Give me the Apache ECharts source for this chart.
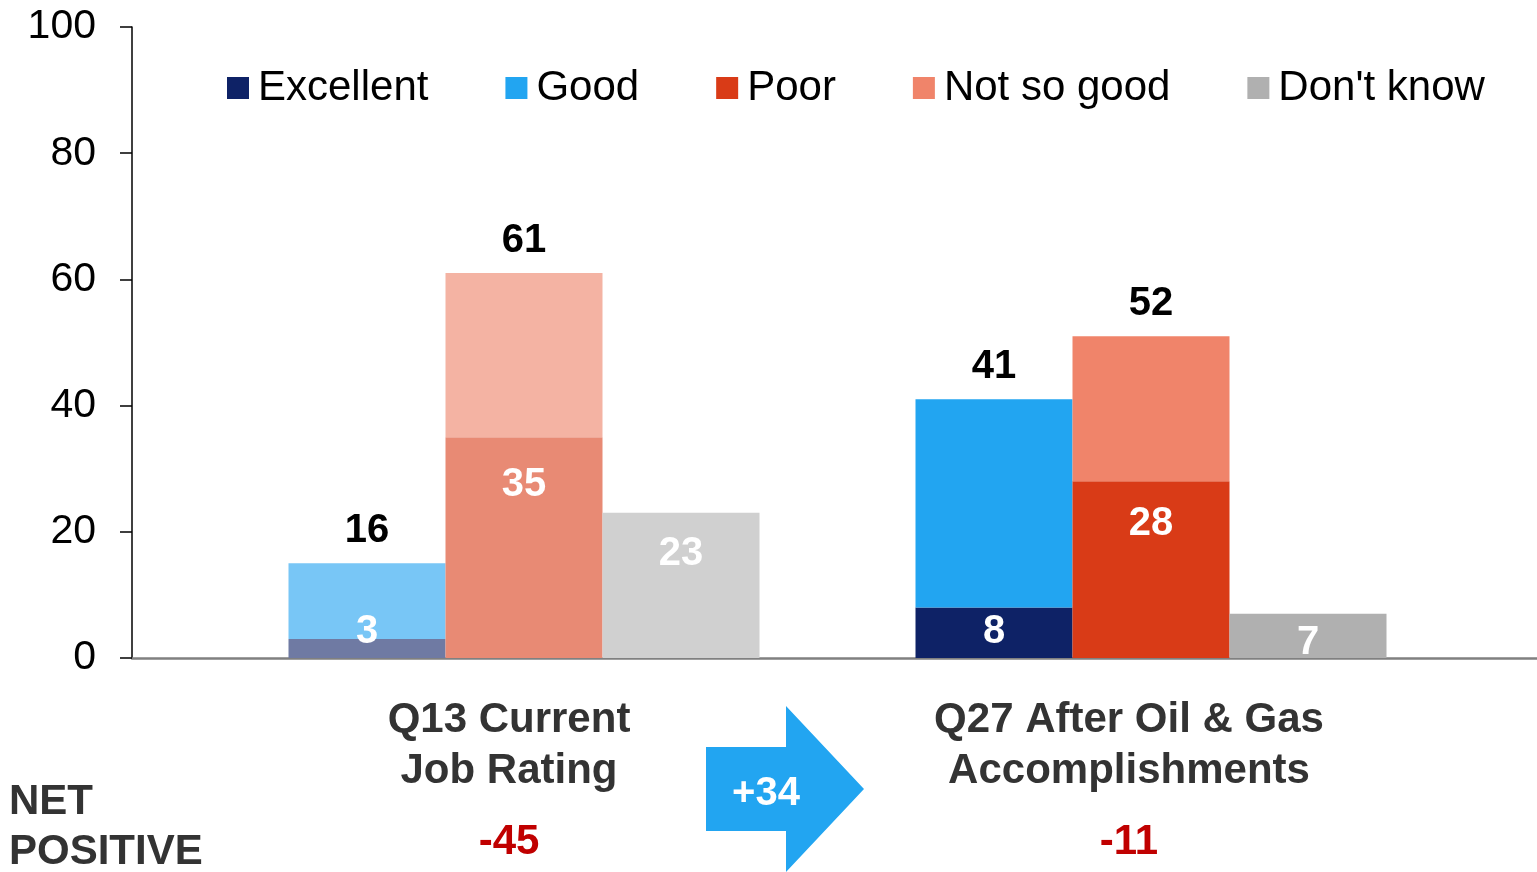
<!DOCTYPE html>
<html>
<head>
<meta charset="utf-8">
<script src="https://cdn.jsdelivr.net/npm/echarts@6/dist/echarts.min.js"></script>
<style>
  html, body { margin: 0; padding: 0; background: #fff; }
  #chart { width: 1537px; height: 872px; }
</style>
</head>
<body>
<div id="chart"></div>
<script>
const categories = ['Q13 Current\nJob Rating', 'Q27 After Oil & Gas\nAccomplishments']
const netPositive = ['-45', '-11']
const excellent = [3, 8]
const good = [12, 33]
const poor = [35, 28]
const notSoGood = [26, 23]
const dontKnow = [23, 7]
const positiveTotals = [16, 41]
const negativeTotals = [61, 52]
const yTicks = [0, 20, 40, 60, 80, 100]

// faded colours for Q13, full colours for Q27
const colors = {
  excellent: ['#6f7aa3', '#0e2266'],
  good: ['#78c6f6', '#22a5f1'],
  poor: ['#e88a74', '#d93b17'],
  notSoGood: ['#f4b3a3', '#f0846a'],
  dontKnow: ['#d0d0d0', '#b0b0b0']
}

const FONT = '"Liberation Sans", Arial, sans-serif'
const chart = echarts.init(document.getElementById('chart'))

const inLabel = {
  show: true,
  color: '#fff',
  fontSize: 40,
  fontWeight: 'bold',
  fontFamily: FONT,
  lineHeight: 40
}

const totalLabel = (totals) => ({
  show: true,
  position: 'top',
  distance: 12,
  color: '#000',
  fontSize: 40,
  fontWeight: 'bold',
  fontFamily: FONT,
  lineHeight: 40,
  formatter: p => totals[p.dataIndex]
})

const mkData = (values, key) => values.map((v, i) => ({
  value: v,
  itemStyle: { color: colors[key][i] }
}))

const catStyle = { fontSize: 42, fontWeight: 'bold', color: '#333', lineHeight: 51, fontFamily: FONT }
const netStyle = { fontSize: 42, fontWeight: 'bold', color: '#c00000', lineHeight: 91, fontFamily: FONT }

const option = {
  animation: false,
  textStyle: { fontFamily: FONT },
  title: {
    text: 'NET\nPOSITIVE',
    left: 4,
    top: 772,
    textStyle: { fontSize: 42, fontWeight: 'bold', color: '#333', lineHeight: 50, fontFamily: FONT }
  },
  legend: {
    left: 222,
    top: 62,
    itemWidth: 22,
    itemHeight: 22,
    itemGap: 77,
    icon: 'rect',
    textStyle: { fontSize: 42, color: '#000', fontFamily: FONT, padding: [0, 0, 0, 4] },
    data: ['Excellent', 'Good', 'Poor', 'Not so good', "Don't know"]
  },
  grid: [
    { left: 210.5, right: 72.5, top: 27, bottom: 214 },
    { left: 132, right: 0, top: 27, bottom: 214 }
  ],
  xAxis: [
    {
      type: 'category',
      gridIndex: 0,
      data: categories,
      axisLine: { show: false },
      axisTick: { show: false },
      axisLabel: {
        margin: 37,
        interval: 0,
        padding: [0, 30, 0, 0],
        formatter: (val, idx) => {
          const lines = val.split('\n')
          return lines.map(l => '{a' + idx + '|' + l + '}').join('\n') + '\n{b' + idx + '|' + netPositive[idx] + '}'
        },
        rich: {
          a0: catStyle,
          b0: netStyle,
          a1: Object.assign({}, catStyle, { padding: [0, 14, 0, 0] }),
          b1: Object.assign({}, netStyle, { padding: [0, 14, 0, 0] })
        }
      }
    },
    {
      type: 'value',
      gridIndex: 1,
      min: 0,
      max: 1,
      axisLine: { show: true, lineStyle: { color: '#808080', width: 2.5 } },
      axisTick: { show: false },
      axisLabel: { show: false },
      splitLine: { show: false }
    }
  ],
  yAxis: [
    {
      type: 'value',
      gridIndex: 0,
      min: yTicks[0],
      max: yTicks[yTicks.length - 1],
      interval: 20,
      offset: 78.5,
      axisLine: { show: true, lineStyle: { color: '#000', width: 1.5 } },
      axisTick: { show: true, length: 12, lineStyle: { color: '#000', width: 1.5 } },
      axisLabel: { fontSize: 41, color: '#000', margin: 36, fontFamily: FONT },
      splitLine: { show: false }
    },
    {
      type: 'value',
      gridIndex: 1,
      show: false,
      min: 0,
      max: 1
    }
  ],
  series: [
    {
      name: 'Excellent',
      type: 'bar',
      stack: 'pos',
      barWidth: 157,
      barGap: '0%',
      itemStyle: { color: colors.excellent[1] },
      label: Object.assign({}, inLabel, { position: 'insideBottom', distance: 6 }),
      data: mkData(excellent, 'excellent')
    },
    {
      name: 'Good',
      type: 'bar',
      stack: 'pos',
      barWidth: 157,
      barGap: '0%',
      itemStyle: { color: colors.good[1] },
      label: totalLabel(positiveTotals),
      data: mkData(good, 'good')
    },
    {
      name: 'Poor',
      type: 'bar',
      stack: 'neg',
      barWidth: 157,
      barGap: '0%',
      itemStyle: { color: colors.poor[1] },
      label: Object.assign({}, inLabel, { position: 'insideTop', distance: 28 }),
      data: poor.map((v, i) => ({
        value: v,
        itemStyle: { color: colors.poor[i] },
        label: i === 1 ? { distance: 23 } : undefined
      }))
    },
    {
      name: 'Not so good',
      type: 'bar',
      stack: 'neg',
      barWidth: 157,
      barGap: '0%',
      itemStyle: { color: colors.notSoGood[1] },
      label: totalLabel(negativeTotals),
      data: mkData(notSoGood, 'notSoGood')
    },
    {
      name: "Don't know",
      type: 'bar',
      stack: 'dk',
      barWidth: 157,
      barGap: '0%',
      itemStyle: { color: colors.dontKnow[1] },
      label: Object.assign({}, inLabel, { position: 'insideTop', distance: 21 }),
      data: dontKnow.map((v, i) => ({
        value: v,
        itemStyle: { color: colors.dontKnow[i] },
        label: i === 1 ? { position: 'inside', offset: [0, 7] } : undefined
      }))
    }
  ],
  graphic: [
    {
      type: 'polygon',
      shape: {
        points: [[706, 747], [786, 747], [786, 706], [864, 789], [786, 872], [786, 831], [706, 831]]
      },
      style: { fill: '#22a5f1' }
    },
    {
      type: 'text',
      x: 766,
      y: 794,
      style: {
        text: '+34',
        fill: '#fff',
        font: 'bold 40px ' + FONT,
        textAlign: 'center',
        textVerticalAlign: 'middle'
      }
    }
  ]
}

chart.setOption(option)
window.addEventListener('resize', () => chart.resize())
</script>
</body>
</html>
